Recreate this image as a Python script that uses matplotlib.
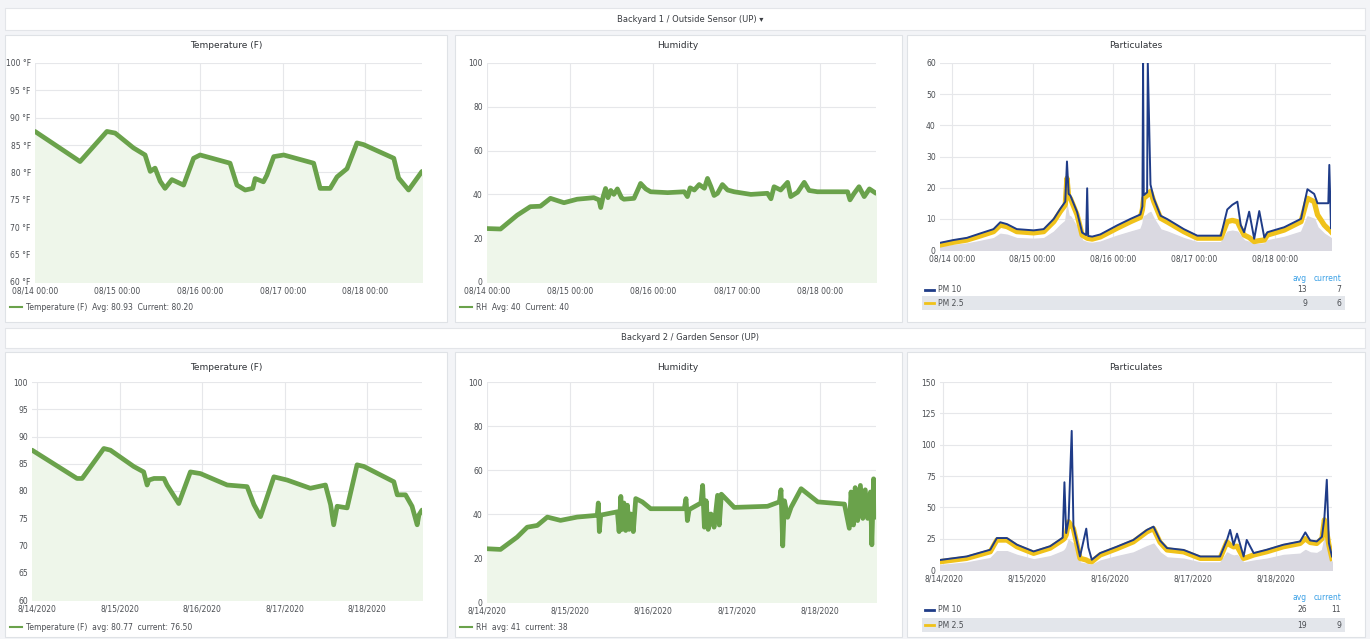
import matplotlib
matplotlib.use("Agg")
import matplotlib.pyplot as plt
import numpy as np
from matplotlib.patches import Rectangle
from matplotlib.lines import Line2D

# ---------------------------------------------------------------- data
DAY_TICKS = [0, 24, 48, 72, 96]
TOP_TIME_LABELS = ["08/14 00:00", "08/15 00:00", "08/16 00:00", "08/17 00:00", "08/18 00:00"]
BOT_TIME_LABELS = ["8/14/2020", "8/15/2020", "8/16/2020", "8/17/2020", "8/18/2020"]

# Sensor 1 temperature (hours since 08/14 00:00, deg F)
s1_temp_t = [0, 13.1, 20.9, 23.3, 28.6, 32.0, 33.5, 34.9, 36.4, 37.8, 39.8, 43.2, 46.1, 48.0,
             56.7, 58.7, 61.1, 63.3, 64.0, 66.4, 67.4, 69.4, 72.3, 81.0, 82.9, 85.8, 87.8,
             90.7, 93.6, 95.5, 104.3, 105.7, 108.6, 112.5]
s1_temp_v = [87.5, 82.0, 87.5, 87.2, 84.5, 83.2, 80.2, 80.8, 78.4, 77.1, 78.7, 77.7, 82.6, 83.2,
             81.7, 77.7, 76.8, 77.1, 78.9, 78.3, 79.5, 82.9, 83.2, 81.7, 77.1, 77.1, 79.2,
             80.7, 85.4, 85.1, 82.6, 79.0, 76.8, 80.2]

# Sensor 1 relative humidity (%)
s1_rh_t = [0, 3.9, 8.7, 12.5, 15.4, 18.3, 22.2, 26.0, 30.8, 32.3, 32.8, 33.5, 34.2, 34.9, 35.7,
           36.6, 37.6, 38.8, 39.5, 42.4, 43.9, 44.3, 45.8, 47.2, 52.1, 56.9, 57.8, 58.6, 59.8,
           61.2, 62.7, 63.6, 64.6, 65.5, 66.5, 67.9, 69.4, 71.3, 76.1, 80.9, 81.9, 82.8, 84.7,
           86.7, 87.6, 89.6, 91.5, 92.9, 95.3, 104.0, 104.7, 105.9, 107.3, 108.8, 110.3, 112.2]
s1_rh_v = [24.4, 24.2, 30.5, 34.4, 34.6, 38.2, 36.2, 37.8, 38.5, 37.5, 34.0, 39.0, 42.7, 38.5, 41.8,
           40.0, 42.5, 38.5, 37.8, 38.2, 43.5, 45.0, 42.5, 41.2, 40.8, 41.2, 39.0, 43.0, 42.0,
           44.5, 42.8, 47.3, 43.5, 39.5, 40.5, 44.5, 42.0, 41.2, 40.0, 40.5, 38.0, 43.5, 42.0,
           45.5, 39.0, 41.0, 45.5, 41.8, 41.2, 41.2, 37.5, 40.5, 43.5, 39.0, 42.5, 40.5]

# Sensor 1 particulates (ug/m3)
s1_pm_t = [-3.5, 0.5, 4.5, 8.4, 12.4, 14.4, 16.4, 19.3, 24.3, 27.3, 30.3, 32.2, 33.7, 34.2, 34.7,
           35.2, 37.2, 38.7, 39.9, 40.2, 40.5, 41.7, 44.1, 49.1, 53.1, 56.0, 56.6, 56.8, 57.0,
           58.0, 58.2, 59.0, 60.0, 62.0, 64.0, 68.9, 72.9, 79.9, 81.8, 83.3, 84.8, 85.8, 86.8,
           88.3, 89.8, 91.3, 92.8, 93.7, 98.7, 103.7, 105.6, 107.6, 108.6, 110.6, 111.8, 112.1,
           112.6]
s1_pm25 = [1.6, 2.5, 3.2, 4.5, 5.9, 8.0, 7.5, 5.9, 5.5, 5.9, 9.1, 12.3, 14.5, 23.0, 17.0,
           16.6, 11.3, 4.8, 4.0, 3.8, 3.7, 3.5, 4.2, 7.0, 9.1, 10.5, 13.0, 15.0, 16.6,
           17.5, 18.0, 18.8, 15.5, 10.2, 9.0, 5.9, 3.8, 3.8, 9.1, 9.5, 9.1, 6.8, 4.8,
           4.0, 2.7, 3.0, 3.2, 4.8, 6.4, 9.1, 16.6, 15.5, 11.3, 8.0, 6.7, 6.5,
           5.9]
s1_pm10 = [2.3, 3.2, 3.9, 5.3, 6.7, 8.9, 8.3, 6.7, 6.3, 6.7, 10.0, 13.2, 15.5, 28.4, 18.0,
           17.5, 12.2, 5.6, 4.8, 19.8, 4.5, 4.3, 5.0, 7.9, 10.0, 11.4, 14.0, 60.0, 17.6,
           18.5, 60.0, 21.0, 16.5, 11.0, 9.9, 6.7, 4.6, 4.6, 13.0, 14.5, 15.5, 8.0, 5.7,
           12.3, 3.6, 12.5, 4.0, 5.7, 7.3, 10.0, 19.5, 18.0, 15.0, 15.0, 15.0, 27.3,
           7.0]
s1_pm1 = [1.0, 1.6, 2.1, 2.9, 3.8, 5.2, 4.9, 3.8, 3.6, 3.8, 5.9, 8.0, 9.4, 14.0, 11.0,
          10.8, 7.3, 3.1, 2.6, 2.5, 2.4, 2.3, 2.7, 4.6, 5.9, 6.8, 8.5, 9.8, 10.8,
          11.4, 11.7, 12.2, 10.0, 6.6, 5.9, 3.8, 2.5, 2.5, 5.9, 6.2, 5.9, 4.4, 3.1,
          2.6, 1.8, 2.0, 2.1, 3.1, 4.2, 5.9, 10.8, 10.0, 7.3, 5.2, 4.4, 4.2,
          3.8]

# Sensor 2 temperature (deg F)
s2_temp_t = [-1.5, 11.6, 13.1, 19.4, 21.3, 28.1, 31.0, 32.0, 32.5, 34.0, 36.9, 37.8, 41.2, 44.6,
             47.5, 55.3, 61.1, 63.1, 65.0, 68.9, 72.8, 79.5, 83.9, 85.4, 86.3, 87.3, 90.2,
             93.1, 95.1, 103.8, 104.8, 107.2, 109.1, 110.6, 111.1, 112.0]
s2_temp_v = [87.5, 82.3, 82.3, 87.8, 87.5, 84.5, 83.5, 81.1, 82.0, 82.3, 82.3, 81.1, 77.7, 83.5,
             83.2, 81.1, 80.8, 77.5, 75.3, 82.6, 82.0, 80.5, 81.1, 77.5, 73.8, 77.2, 76.9,
             84.8, 84.5, 81.7, 79.3, 79.3, 77.2, 73.8, 75.6, 76.5]

# Sensor 2 relative humidity (%)
s2_rh_t = [0, 3.9, 8.7, 11.6, 14.5, 17.4, 21.2, 26.0, 31.8, 32.1, 32.4, 32.8, 37.6, 38.1, 38.6,
           39.0, 39.5, 40.0, 40.5, 41.0, 41.5, 42.2, 42.9, 44.8, 47.2, 56.9, 57.4, 57.8, 58.3,
           61.7, 62.2, 62.7, 63.2, 63.8, 64.6, 65.5, 66.5, 67.0, 67.6, 71.3, 80.9, 84.3, 84.8,
           85.3, 85.8, 86.7, 87.7, 90.6, 95.4, 103.1, 104.5, 105.0, 105.7, 106.2, 106.9, 107.7,
           108.4, 109.1, 109.8, 110.6, 111.0, 111.5, 112.2]
s2_rh_v = [24.2, 23.9, 29.5, 34.0, 34.8, 38.6, 37.1, 38.6, 39.4, 45.0, 32.0, 39.5, 41.0, 32.0, 48.0,
           33.0, 45.0, 32.5, 44.0, 33.0, 40.0, 32.0, 47.0, 45.5, 42.4, 42.4, 47.0, 37.0, 42.0,
           45.0, 53.0, 34.0, 46.0, 33.0, 40.0, 34.0, 48.5, 35.0, 49.0, 43.0, 43.5, 45.5, 51.0,
           25.5, 46.0, 38.5, 43.0, 51.5, 45.5, 44.5, 33.5, 50.0, 35.0, 52.0, 37.0, 53.0,
           38.0, 51.0, 38.0, 50.0, 26.0, 56.0, 38.5]

# Sensor 2 particulates (ug/m3)
s2_pm_t = [-1.0, 6.7, 13.5, 15.4, 18.3, 21.2, 26.0, 30.8, 34.4, 34.9, 35.4, 36.1, 37.0, 37.5,
           39.4, 41.2, 41.8, 42.8, 45.2, 50.0, 54.8, 58.7, 60.6, 62.5, 64.5, 69.3, 74.1, 79.8,
           81.8, 82.7, 83.7, 84.7, 86.6, 87.5, 89.5, 93.3, 98.1, 102.9, 104.4, 105.8, 107.7,
           109.2, 109.9, 110.6, 111.2, 112.1]
s2_pm25 = [6.6, 9.3, 14.6, 23.9, 23.9, 18.6, 13.3, 17.5, 24.0, 25.2, 28.0, 38.5, 35.0, 33.0,
           9.3, 8.0, 7.0, 6.6, 12.0, 17.0, 22.5, 30.5, 33.0, 22.0, 16.0, 14.5, 9.3, 9.3,
           22.5, 20.0, 18.5, 19.0, 9.3, 10.0, 12.0, 14.6, 18.6, 21.2, 25.0, 22.0, 21.2,
           25.0, 40.0, 30.0, 20.0, 9.3]
s2_pm10 = [8.0, 10.8, 16.2, 25.5, 25.5, 20.2, 14.8, 19.0, 25.8, 70.0, 29.5, 40.0, 111.0, 35.0,
           10.8, 33.0, 18.0, 8.2, 13.5, 18.6, 24.0, 32.0, 34.6, 23.5, 17.5, 16.0, 10.8, 10.8,
           24.0, 32.0, 20.0, 29.0, 10.8, 24.0, 13.5, 16.2, 20.2, 22.8, 30.0, 23.6, 22.8,
           26.5, 41.5, 72.0, 21.5, 10.8]
s2_pm1 = [4.0, 6.0, 9.5, 15.0, 15.0, 12.0, 8.5, 11.0, 15.0, 16.0, 18.0, 24.0, 22.0, 21.0,
          6.0, 5.0, 4.5, 4.2, 7.5, 11.0, 14.0, 19.0, 21.0, 14.0, 10.0, 9.0, 6.0, 6.0,
          14.0, 12.5, 11.5, 12.0, 6.0, 6.5, 7.5, 9.0, 12.0, 13.0, 16.0, 14.0, 13.5,
          16.0, 25.0, 19.0, 12.0, 6.0]

# ---------------------------------------------------------------- styling
W, H = 1370, 639
GREEN = "#6aa24b"
GREEN_FILL = "#eef6ea"
YELLOW = "#f0c21a"
NAVY = "#1f3c88"
GREY_FILL = "#dad9e1"
GRID = "#e6e7ea"
TXT = "#4a4d52"
HEAD = "#3aa0e6"

plt.rcParams["font.family"] = ["DejaVu Sans"]

fig = plt.figure(figsize=(W / 100, H / 100), dpi=100)
fig.patch.set_facecolor("#f3f4f7")


def fx(px):
    return px / W


def fy(py):
    return 1 - py / H


def box(x0, y0, x1, y1, fc="white", ec="#dfe2e6", lw=0.8, z=0):
    fig.add_artist(Rectangle((fx(x0), fy(y1)), (x1 - x0) / W, (y1 - y0) / H,
                             transform=fig.transFigure, facecolor=fc, edgecolor=ec,
                             linewidth=lw, zorder=z))


def make_axes(x0, y0, x1, y1):
    ax = fig.add_axes([fx(x0), fy(y1), (x1 - x0) / W, (y1 - y0) / H])
    ax.set_facecolor("none")
    for s in ax.spines.values():
        s.set_visible(False)
    ax.tick_params(length=0, labelsize=5.5, labelcolor=TXT, pad=3)
    ax.grid(True, color=GRID, linewidth=0.8)
    ax.set_axisbelow(True)
    return ax


def title(x, y, s):
    fig.text(fx(x), fy(y), s, ha="center", va="center", fontsize=6.5, color="#2f3237")


def green_panel(ax, t, v, ylim, yticks, ylabels, xlabels, xmax, xmin=0):
    ax.fill_between(t, ylim[0], v, color=GREEN_FILL, zorder=1)
    ax.plot(t, v, color=GREEN, linewidth=3.4, solid_joinstyle="round",
            solid_capstyle="round", zorder=3)
    ax.set_xlim(xmin, xmax)
    ax.set_ylim(*ylim)
    ax.set_yticks(yticks)
    ax.set_yticklabels(ylabels)
    ax.set_xticks(DAY_TICKS)
    ax.set_xticklabels(xlabels)


def green_legend(x, y, text):
    fig.add_artist(Line2D([fx(x), fx(x + 12)], [fy(y), fy(y)], transform=fig.transFigure,
                          color=GREEN, linewidth=1.5))
    fig.text(fx(x + 16), fy(y), text, ha="left", va="center", fontsize=5.5, color=TXT)


def pm_panel(ax, t, pm1, pm25, pm10, ylim, yticks, xlabels, xmin, xmax):
    ax.fill_between(t, 0, pm1, color=GREY_FILL, zorder=1)
    ax.plot(t, pm25, color=YELLOW, linewidth=3.8, zorder=2)
    ax.plot(t, pm10, color=NAVY, linewidth=1.4, zorder=3)
    ax.set_xlim(xmin, xmax)
    ax.set_ylim(*ylim)
    ax.set_yticks(yticks)
    ax.set_xticks(DAY_TICKS)
    ax.set_xticklabels(xlabels)


def pm_table(x0, x1, y_head, y1, y2, pm10, pm25):
    fig.text(fx(x1 - 38), fy(y_head), "avg", ha="right", va="center", fontsize=5.5, color=HEAD)
    fig.text(fx(x1 - 4), fy(y_head), "current", ha="right", va="center", fontsize=5.5, color=HEAD)
    box(x0 - 3, y2 - 7, x1, y2 + 7, fc="#e3e6eb", ec="none", lw=0, z=0.5)
    for yy, col, name, vals in ((y1, NAVY, "PM 10", pm10), (y2, YELLOW, "PM 2.5", pm25)):
        fig.add_artist(Line2D([fx(x0), fx(x0 + 9)], [fy(yy), fy(yy)], transform=fig.transFigure,
                              color=col, linewidth=2.0))
        fig.text(fx(x0 + 13), fy(yy), name, ha="left", va="center", fontsize=5.5, color=TXT)
        fig.text(fx(x1 - 38), fy(yy), f"{np.mean(vals):.0f}", ha="right", va="center",
                 fontsize=5.5, color=TXT)
        fig.text(fx(x1 - 4), fy(yy), f"{vals[-1]:.0f}", ha="right", va="center",
                 fontsize=5.5, color=TXT)


# ---------------------------------------------------------------- row headers
box(5, 8, 1365, 30, fc="white", ec="#e3e5e9")
fig.text(fx(690), fy(19), "Backyard 1 / Outside Sensor (UP) \u25be", ha="center", va="center",
         fontsize=6, color="#3a3d42")
box(5, 328, 1365, 348, fc="white", ec="#e3e5e9")
fig.text(fx(690), fy(338), "Backyard 2 / Garden Sensor (UP)", ha="center", va="center",
         fontsize=6, color="#3a3d42")

# ---------------------------------------------------------------- panel frames
for (a, b) in ((5, 447), (455, 902), (907, 1365)):
    box(a, 35, b, 322)
    box(a, 352, b, 637)

# ---------------------------------------------------------------- row 1
title(226, 45, "Temperature (F)")
ax = make_axes(35, 63, 422, 282)
green_panel(ax, s1_temp_t, s1_temp_v, (60, 100), list(range(60, 101, 5)),
            [f"{v} \u00b0F" for v in range(60, 101, 5)], TOP_TIME_LABELS, 112.5)
green_legend(10, 307, f"Temperature (F)  Avg: {np.mean(s1_temp_v):.2f}  Current: {s1_temp_v[-1]:.2f}")

title(678, 45, "Humidity")
ax = make_axes(487, 63, 876, 282)
green_panel(ax, s1_rh_t, s1_rh_v, (0, 100), list(range(0, 101, 20)),
            [str(v) for v in range(0, 101, 20)], TOP_TIME_LABELS, 112.2)
green_legend(460, 307, f"RH  Avg: {np.mean(s1_rh_v):.0f}  Current: {s1_rh_v[-1]:.0f}")

title(1136, 45, "Particulates")
ax = make_axes(940, 63, 1331, 250)
pm_panel(ax, s1_pm_t, s1_pm1, s1_pm25, s1_pm10, (0, 60), list(range(0, 61, 10)),
         TOP_TIME_LABELS, -3.5, 112.6)
pm_table(925, 1345, 278, 290, 303, s1_pm10, s1_pm25)

# ---------------------------------------------------------------- row 2
title(226, 367, "Temperature (F)")
ax = make_axes(32, 382, 422, 600)
green_panel(ax, s2_temp_t, s2_temp_v, (60, 100), list(range(60, 101, 5)),
            [str(v) for v in range(60, 101, 5)], BOT_TIME_LABELS, 112.0, xmin=-1.5)
green_legend(10, 627, f"Temperature (F)  avg: {np.mean(s2_temp_v):.2f}  current: {s2_temp_v[-1]:.2f}")

title(678, 367, "Humidity")
ax = make_axes(487, 382, 876, 602)
green_panel(ax, s2_rh_t, s2_rh_v, (0, 100), list(range(0, 101, 20)),
            [str(v) for v in range(0, 101, 20)], BOT_TIME_LABELS, 112.2)
green_legend(460, 627, f"RH  avg: {np.mean(s2_rh_v):.0f}  current: {s2_rh_v[-1]:.0f}")

title(1136, 367, "Particulates")
ax = make_axes(940, 382, 1332, 570)
pm_panel(ax, s2_pm_t, s2_pm1, s2_pm25, s2_pm10, (0, 150), list(range(0, 151, 25)),
         BOT_TIME_LABELS, -1.0, 112.1)
pm_table(925, 1345, 597, 610, 625, s2_pm10, s2_pm25)

fig.savefig("out.png", dpi=100, facecolor=fig.get_facecolor())
